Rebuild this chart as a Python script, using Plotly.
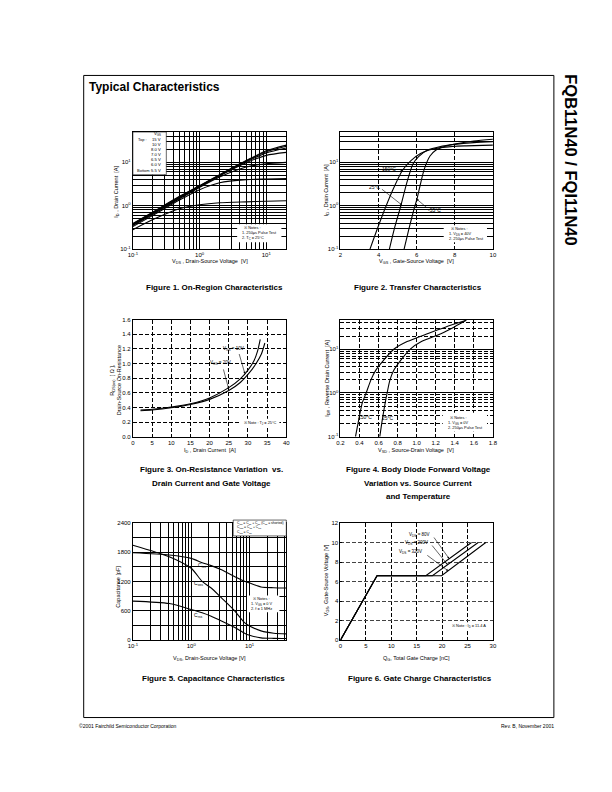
import math
import plotly.graph_objects as go

W, H = 612, 792
FONT = "Liberation Sans, Arial, Helvetica, sans-serif"

# ---------------- data ----------------
# Figure 1: On-region characteristics (VDS [V] vs ID [A])
f1_vds = [0.1, 0.2, 0.5, 1.0, 2.0, 5.0, 10.0, 20.0]
f1_id_15v = [0.39, 0.72, 1.65, 2.9, 5.2, 11.0, 18.5, 25.0]
f1_id_10v = [0.38, 0.70, 1.60, 2.85, 5.1, 10.7, 17.5, 23.5]
f1_id_8v = [0.37, 0.68, 1.55, 2.8, 5.0, 10.3, 16.5, 21.5]
f1_id_7v = [0.36, 0.66, 1.50, 2.75, 4.9, 9.8, 14.5, 17.0]
f1_id_6v5 = [0.35, 0.64, 1.45, 2.65, 4.6, 7.8, 9.3, 10.0]
f1_id_6v = [0.33, 0.60, 1.35, 2.35, 3.4, 4.0, 4.15, 4.25]
f1_id_5v5 = [0.28, 0.48, 0.85, 1.05, 1.17, 1.23, 1.27, 1.30]
f1_vgs_labels = ["15 V", "10 V", "8.0 V", "7.0 V", "6.5 V", "6.0 V", "5.5 V"]

# Figure 2: Transfer characteristics (VGS [V] vs ID [A])
f2_vgs_150 = [3.55, 4.0, 4.4, 4.8, 5.25, 5.7, 6.2, 6.7, 7.5, 8.5, 10.0]
f2_id_150 = [0.1, 0.35, 1.0, 2.6, 6.5, 11.0, 16.0, 19.5, 22.5, 24.0, 25.0]
f2_vgs_25 = [4.57, 4.85, 5.17, 5.45, 5.8, 6.1, 6.6, 7.2, 8.0, 9.0, 10.0]
f2_id_25 = [0.1, 0.32, 1.0, 3.0, 9.0, 13.5, 19.5, 23.0, 26.0, 28.5, 30.0]
f2_vgs_m55 = [5.34, 5.6, 5.85, 6.02, 6.2, 6.4, 6.7, 7.0, 7.5, 8.0, 9.0, 10.0]
f2_id_m55 = [0.1, 0.3, 0.8, 1.45, 3.2, 7.0, 14.0, 19.0, 23.5, 26.5, 31.0, 34.0]

# Figure 3: On-resistance vs drain current
f3_id_10v = [2, 5, 10, 15, 20, 25, 28, 30, 31.5, 32.5, 33.2]
f3_r_10v = [0.365, 0.375, 0.405, 0.45, 0.53, 0.67, 0.79, 0.91, 1.03, 1.17, 1.33]
f3_id_20v = [2, 5, 10, 15, 20, 25, 28, 30, 32, 33.5, 34.4]
f3_r_20v = [0.355, 0.365, 0.395, 0.44, 0.51, 0.63, 0.74, 0.85, 0.99, 1.13, 1.28]

# Figure 4: Body diode forward voltage
f4_vsd_150 = [0.358, 0.40, 0.43, 0.47, 0.52, 0.57, 0.65, 0.76, 0.90, 1.12, 1.30, 1.52]
f4_is_150 = [0.1, 0.3, 0.6, 1.0, 2.0, 3.3, 5.5, 10, 15, 23, 32, 46]
f4_vsd_25 = [0.613, 0.64, 0.67, 0.69, 0.72, 0.76, 0.83, 0.93, 1.05, 1.26, 1.40, 1.52]
f4_is_25 = [0.1, 0.25, 0.6, 1.0, 2.0, 3.3, 5.5, 10, 15, 23, 33, 46]

# Figure 5: Capacitance characteristics
f5_vds = [0.1, 0.42, 1.0, 1.54, 2.2, 3.3, 5.6, 8.2, 10, 15.7, 26, 43]
f5_ciss = [1790, 1745, 1676, 1588, 1527, 1440, 1300, 1205, 1170, 1090, 1075, 1068]
f5_coss = [1946, 1710, 1473, 1203, 1068, 865, 595, 358, 290, 190, 142, 128]
f5_crss = [800, 750, 628, 561, 490, 392, 257, 142, 100, 47, 36, 32]

# Figure 6: Gate charge characteristics
f6_vgs = [0, 6.6, 6.6, 10]
f6_qg_80v = [0, 7.2, 16.8, 25.8]
f6_qg_200v = [0, 7.2, 18.1, 27.1]
f6_qg_320v = [0, 7.2, 19.9, 28.6]

# ---------------- helpers ----------------
def PX(p):
    return p / W


def PY(p):
    return 1 - p / H


def dom_x(a, b):
    return [PX(a), PX(b)]


def dom_y(a, b):
    return [PY(b), PY(a)]


fig = go.Figure()


def add_line(x, y, n, shape="spline"):
    fig.add_trace(go.Scatter(
        x=x, y=y, mode="lines",
        line=dict(color="black", width=1.1, shape=shape, smoothing=0.7),
        xaxis="x" if n == 1 else f"x{n}", yaxis="y" if n == 1 else f"y{n}",
        hoverinfo="skip", showlegend=False))


def log_minor(e0, e1, top):
    vals = []
    for e in range(e0, e1 + 1):
        for m in range(2, 10):
            v = round(m * 10 ** e, 6)
            if v <= top * 1.0001:
                vals.append(v)
    return vals


def decades(e0, e1):
    return [round(10 ** e, 6) for e in range(e0, e1 + 1)], \
        [f"10<sup>{e}</sup>" for e in range(e0, e1 + 1)]


def axis(domain, anchor, **kw):
    d = dict(domain=domain, anchor=anchor, showline=True, linecolor="black",
             linewidth=1, mirror=True, ticks="inside", ticklen=2,
             tickwidth=0.7, tickcolor="black",
             tickfont=dict(family=FONT, size=6, color="black"),
             zeroline=False, showgrid=True, gridcolor="black", gridwidth=1,
             fixedrange=True)
    d.update(kw)
    return d


def minor(vals, dash="solid", width=1, color="black"):
    return dict(tickmode="array", tickvals=vals, showgrid=True,
                gridcolor=color, griddash=dash, gridwidth=width,
                ticks="inside", ticklen=1.5, tickcolor="black")


DASH = "4px,2px"
ann = []


def txt(x, y, s, size=5.5, xanchor="center", yanchor="middle", angle=0,
        bold=False, align="center"):
    if bold:
        s = f"<b>{s}</b>"
    ann.append(dict(x=PX(x), y=PY(y), xref="paper", yref="paper", text=s,
                    showarrow=False, xanchor=xanchor, yanchor=yanchor,
                    textangle=angle, align=align,
                    font=dict(family=FONT, size=size, color="black")))


def arrow(n, tx, ty, hx, hy):
    xr = "x" if n == 1 else f"x{n}"
    yr = "y" if n == 1 else f"y{n}"
    ann.append(dict(x=hx, y=hy, ax=tx, ay=ty, xref=xr, yref=yr, axref=xr,
                    ayref=yr, text="", showarrow=True, arrowhead=2,
                    arrowsize=0.7, arrowwidth=0.6, arrowcolor="black"))


shapes = []


def white_box(x0, y0, x1, y1, border=False):
    shapes.append(dict(type="rect", xref="paper", yref="paper",
                       x0=PX(x0), x1=PX(x1), y0=PY(y1), y1=PY(y0),
                       fillcolor="white",
                       line=dict(color="black", width=0.6 if border else 0)))


# ---------------- traces ----------------
for ys in [f1_id_15v, f1_id_10v, f1_id_8v, f1_id_7v, f1_id_6v5, f1_id_6v, f1_id_5v5]:
    add_line(f1_vds, ys, 1)

add_line(f2_vgs_150, f2_id_150, 2)
add_line(f2_vgs_25, f2_id_25, 2)
add_line(f2_vgs_m55, f2_id_m55, 2)

add_line(f3_id_10v, f3_r_10v, 3)
add_line(f3_id_20v, f3_r_20v, 3)

add_line(f4_vsd_150, f4_is_150, 4)
add_line(f4_vsd_25, f4_is_25, 4)

add_line(f5_vds, f5_ciss, 5)
add_line(f5_vds, f5_coss, 5)
add_line(f5_vds, f5_crss, 5)

add_line(f6_qg_80v, f6_vgs, 6, shape="linear")
add_line(f6_qg_200v, f6_vgs, 6, shape="linear")
add_line(f6_qg_320v, f6_vgs, 6, shape="linear")

# ---------------- axes ----------------
L1, R1 = 130, 286
L2, R2 = 341, 496
row1, row2, row3 = (130, 248), (319, 437), (524, 642)

dx, dt = decades(-1, 1)

layout_axes = dict(
    xaxis=axis(dom_x(L1, R1), "y", type="log", range=[-1, math.log10(20)],
               tickmode="array", tickvals=dx, ticktext=dt,
               minor=minor(log_minor(-1, 1, 20))),
    yaxis=axis(dom_y(*row1), "x", type="log", range=[-1, 1.7],
               tickmode="array", tickvals=dx, ticktext=dt,
               minor=minor(log_minor(-1, 1, 50))),
    xaxis2=axis(dom_x(L2, R2), "y2", range=[2, 10], tickmode="array",
                tickvals=[2, 4, 6, 8, 10], griddash=DASH),
    yaxis2=axis(dom_y(*row1), "x2", type="log", range=[-1, 1.7],
                tickmode="array", tickvals=dx, ticktext=dt,
                minor=minor(log_minor(-1, 1, 50))),
    xaxis3=axis(dom_x(L1, R1), "y3", range=[0, 40], tickmode="array",
                tickvals=[0, 5, 10, 15, 20, 25, 30, 35, 40], griddash=DASH),
    yaxis3=axis(dom_y(*row2), "x3", range=[0, 1.6], tickmode="array",
                tickvals=[0, 0.2, 0.4, 0.6, 0.8, 1.0, 1.2, 1.4, 1.6],
                tickformat=".1f", griddash=DASH),
    xaxis4=axis(dom_x(L2, R2), "y4", range=[0.2, 1.8], tickmode="array",
                tickvals=[0.2, 0.4, 0.6, 0.8, 1.0, 1.2, 1.4, 1.6, 1.8],
                tickformat=".1f", griddash=DASH),
    yaxis4=axis(dom_y(*row2), "x4", type="log", range=[-1, 1.68],
                tickmode="array", tickvals=dx, ticktext=dt,
                minor=minor(log_minor(-1, 1, 47), dash=DASH, width=0.8)),
    xaxis5=axis(dom_x(L1, R1), "y5", type="log", range=[-1, 1.63],
                tickmode="array", tickvals=dx, ticktext=dt,
                minor=minor(log_minor(-1, 1, 42))),
    yaxis5=axis(dom_y(*row3), "x5", range=[0, 2400], tickmode="array",
                tickvals=[0, 600, 1200, 1800, 2400],
                minor=minor([300, 900, 1500, 2100])),
    xaxis6=axis(dom_x(L2, R2), "y6", range=[0, 30], tickmode="array",
                tickvals=[0, 5, 10, 15, 20, 25, 30], griddash=DASH),
    yaxis6=axis(dom_y(*row3), "x6", range=[0, 12], tickmode="array",
                tickvals=[0, 2, 4, 6, 8, 10, 12], griddash=DASH,
                gridcolor="#444444"),
)

# ---------------- page text ----------------
txt(83, 85, "Typical Characteristics", size=12, xanchor="left", bold=True)
txt(576, 158, "FQB11N40 / FQI11N40", size=16.5, angle=90, bold=True)
txt(73, 729, "©2001 Fairchild Semiconductor Corporation", size=5, xanchor="left")
txt(560, 729, "Rev. B, November 2001", size=5, xanchor="right")

# captions
txt(213, 287, "Figure 1. On-Region Characteristics", size=8, bold=True)
txt(420, 287, "Figure 2. Transfer Characteristics", size=8, bold=True)
txt(210, 470, "Figure 3. On-Resistance Variation  vs.", size=8, bold=True)
txt(210, 484, "Drain Current and Gate Voltage", size=8, bold=True)
txt(420, 470, "Figure 4. Body Diode Forward Voltage", size=8, bold=True)
txt(420, 484, "Variation vs. Source Current", size=8, bold=True)
txt(420, 497, "and Temperature", size=8, bold=True)
txt(212, 681, "Figure 5. Capacitance Characteristics", size=8, bold=True)
txt(422, 681, "Figure 6. Gate Charge Characteristics", size=8, bold=True)

# axis titles
txt(208, 260, "V<sub>DS</sub> , Drain-Source Voltage  [V]", size=5.5)
txt(113, 190, "I<sub>D</sub> , Drain Current  [A]", size=5.5, angle=-90)
txt(418, 260, "V<sub>GS</sub> , Gate-Source Voltage  [V]", size=5.5)
txt(327, 189, "I<sub>D</sub> , Drain Current  [A]", size=5.5, angle=-90)
txt(208, 451, "I<sub>D</sub> , Drain Current  [A]", size=5.5)
txt(112, 380, "R<sub>DS(on)</sub>  [ Ω ],<br>Drain-Source On-Resistance",
    size=5.5, angle=-90)
txt(418, 451, "V<sub>SD</sub> , Source-Drain Voltage  [V]", size=5.5)
txt(327, 378, "I<sub>DR</sub> , Reverse Drain Current  [A]", size=5.5, angle=-90)
txt(208, 660, "V<sub>DS</sub>, Drain-Source Voltage [V]", size=5.5)
txt(114, 588, "Capacitance [pF]", size=5.5, angle=-90)
txt(418, 660, "Q<sub>G</sub>, Total Gate Charge [nC]", size=5.5)
txt(327, 582, "V<sub>GS</sub>, Gate-Source Voltage [V]", size=5.5, angle=-90)

# Figure 1 legend box
white_box(130, 130, 164, 173, border=True)
txt(161, 132.5, "V<sub>GS</sub>", size=4.2, xanchor="right")
row_y = [137.5, 143, 148, 153, 158, 163, 168.5]
for lab, yy in zip(f1_vgs_labels, row_y):
    txt(161, yy, lab, size=4.2, xanchor="right")
txt(133, row_y[0], "Top :", size=4.0, xanchor="left")
txt(132, row_y[-1], "Bottom :", size=4.0, xanchor="left")

# Notes
white_box(236, 223, 281, 241)
txt(239, 232, "  ※ Notes :<br>1. 250μs Pulse Test<br>2. T<sub>C</sub> = 25°C",
    size=3.9, xanchor="left", align="left")
white_box(446, 224, 490, 241)
txt(449, 232.5, "  ※ Notes :<br>1. V<sub>DS</sub> = 40V<br>2. 250μs Pulse Test",
    size=3.9, xanchor="left", align="left")
white_box(238, 419, 279, 428)
txt(241, 423, "※ Note : T<sub>J</sub> = 25°C", size=3.9, xanchor="left")
white_box(445, 413, 490, 432)
txt(448, 422.5, "  ※ Notes :<br>1. V<sub>GS</sub> = 0V<br>2. 250μs Pulse Test",
    size=3.9, xanchor="left", align="left")
white_box(246, 597, 279, 614)
txt(248, 605.5, "  ※ Notes :<br>1. V<sub>GS</sub> = 0 V<br>2. f = 1 MHz",
    size=3.9, xanchor="left", align="left")
white_box(450, 624, 491, 632)
txt(452, 628, "※ Note : I<sub>D</sub> = 11.4 A", size=3.9, xanchor="left")

# Figure 5 legend box
white_box(232, 521, 286, 537, border=True)
txt(234, 529, "C<sub>iss</sub> = C<sub>gs</sub> + C<sub>gd</sub> (C<sub>ds</sub> = shorted)"
    "<br>C<sub>oss</sub> = C<sub>ds</sub> + C<sub>gd</sub><br>C<sub>rss</sub> = C<sub>gd</sub>",
    size=3.4, xanchor="left", align="left")

# Figure 2 labels & arrows
txt(390, 167, "150°C", size=5)
txt(376, 185, "25°C", size=5)
txt(437, 209, "-55°C", size=5)
arrow(2, 5.03, 0.846, 5.28, 0.80)
arrow(2, 4.10, 0.408, 5.23, 0.015)
arrow(2, 6.62, -0.077, 6.0, 0.154)

# Figure 3 labels & arrows
txt(232, 349, "V<sub>GS</sub> = 10V", size=4.5)
txt(219, 363, "V<sub>GS</sub> = 20V", size=4.5)
arrow(3, 27.6, 1.15, 29.2, 0.86)
arrow(3, 23.5, 0.94, 25.0, 0.645)

# Figure 4 labels
txt(366, 417, "150°C", size=5)
txt(389, 418, "25°C", size=5)

# Figure 5 labels
txt(200, 567, "C<sub>iss</sub>", size=5)
txt(197, 585, "C<sub>oss</sub>", size=5)
txt(197, 617, "C<sub>rss</sub>", size=5)

# Figure 6 labels & arrows
txt(434, 536, "V<sub>DS</sub> = 80V", size=4.5, xanchor="right")
txt(432, 544, "V<sub>DS</sub> = 200V", size=4.5, xanchor="right")
txt(426, 553, "V<sub>DS</sub> = 320V", size=4.5, xanchor="right")
arrow(6, 18.2, 10.67, 21.4, 8.34)
arrow(6, 17.8, 9.85, 21.1, 7.73)
arrow(6, 16.8, 8.8, 21.2, 7.1)

# page border
shapes.append(dict(type="rect", xref="paper", yref="paper",
                   x0=PX(80), x1=PX(558), y0=PY(720), y1=PY(73),
                   line=dict(color="black", width=1), layer="below"))

fig.update_layout(
    width=W, height=H, margin=dict(l=0, r=0, t=0, b=0),
    paper_bgcolor="white", plot_bgcolor="white", showlegend=False,
    font=dict(family=FONT, color="black"),
    annotations=ann, shapes=shapes, **layout_axes)

fig.write_html("out.html")
